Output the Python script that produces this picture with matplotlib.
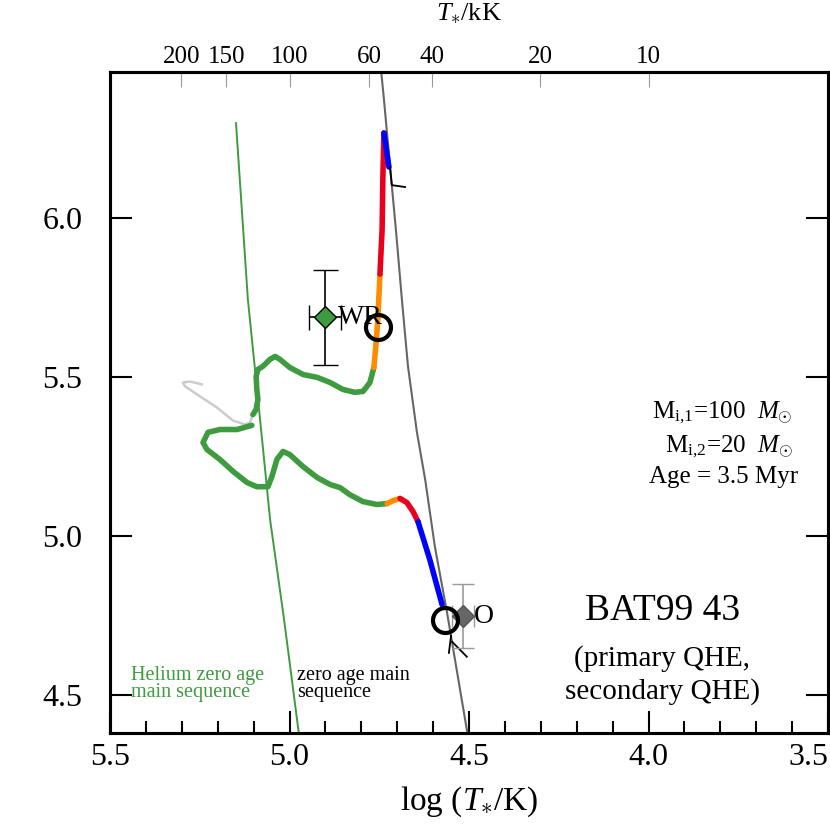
import numpy as np
import matplotlib.pyplot as plt
from matplotlib.ticker import MultipleLocator

plt.rcParams['font.family'] = ['Liberation Serif', 'DejaVu Serif']
plt.rcParams['mathtext.fontset'] = 'custom'
plt.rcParams['mathtext.rm'] = 'Liberation Serif'
plt.rcParams['mathtext.it'] = 'Liberation Serif:italic'

# ─── data (log T*/K, log L/Lsun) ───────────────────────────────────────────
zams_logT = [4.748, 4.737, 4.720, 4.703, 4.687, 4.670, 4.645, 4.622, 4.595, 4.561, 4.503]
zams_logL = [6.500, 6.375, 6.164, 5.956, 5.745, 5.534, 5.326, 5.177, 4.966, 4.758, 4.370]

hezams_logT = [5.149, 5.116, 5.082, 5.054, 5.015, 4.973]
hezams_logL = [6.299, 5.745, 5.367, 5.051, 4.736, 4.370]

# primary (100 Msun, QHE)
prim_blue_T = [4.723, 4.730, 4.737]
prim_blue_L = [6.161, 6.214, 6.268]
prim_red_T = [4.737, 4.740, 4.742, 4.748]
prim_red_L = [6.268, 6.123, 5.965, 5.824]
prim_orange_T = [4.748, 4.754, 4.759, 4.765]
prim_orange_L = [5.824, 5.682, 5.603, 5.530]
prim_green_T = [4.765, 4.776, 4.795, 4.818, 4.851, 4.887, 4.923, 4.962, 4.999,
                5.027, 5.040, 5.054, 5.074, 5.088, 5.093, 5.091, 5.088, 5.093, 5.102]
prim_green_L = [5.530, 5.483, 5.455, 5.452, 5.461, 5.483, 5.499, 5.508, 5.530,
                5.556, 5.565, 5.556, 5.534, 5.524, 5.502, 5.461, 5.430, 5.398, 5.382]
prim_gray_T = [5.102, 5.110, 5.124, 5.157, 5.202, 5.249, 5.291, 5.297, 5.277, 5.244]
prim_gray_L = [5.382, 5.357, 5.351, 5.363, 5.404, 5.439, 5.471, 5.483, 5.486, 5.477]

# secondary (20 Msun, QHE)
sec_green_T = [5.105, 5.146, 5.194, 5.227, 5.241, 5.230, 5.194, 5.157, 5.118, 5.091,
               5.060, 5.049, 5.035, 5.018, 4.999, 4.962, 4.923, 4.887, 4.859, 4.832,
               4.795, 4.756, 4.728]
sec_green_L = [5.348, 5.335, 5.335, 5.326, 5.294, 5.272, 5.241, 5.203, 5.168, 5.155,
               5.155, 5.187, 5.241, 5.266, 5.256, 5.218, 5.184, 5.162, 5.152, 5.130,
               5.108, 5.099, 5.102]
sec_orange_T = [4.728, 4.712, 4.692]
sec_orange_L = [5.102, 5.111, 5.118]
sec_red_T = [4.692, 4.673, 4.656, 4.642]
sec_red_L = [5.118, 5.105, 5.077, 5.045]
sec_blue_T = [4.642, 4.609, 4.575]
sec_blue_L = [5.045, 4.925, 4.784]

# ZAMS start marks (thin black)
mark1_T = [4.720, 4.715, 4.678]
mark1_L = [6.161, 6.104, 6.098]
mark2a_T = [4.550, 4.556]
mark2a_L = [4.686, 4.632]
mark2b_T = [4.547, 4.506]
mark2b_L = [4.667, 4.620]

# current model positions (open circles)
now_T = [4.754, 4.567]
now_L = [5.657, 4.736]

# observed stars
wr_T, wr_L, wr_dT, wr_dL = 4.901, 5.688, 0.045, 0.15
o_T, o_L, o_dT, o_dL = 4.517, 4.749, 0.03, 0.10

logT_ticks = [5.5, 5.0, 4.5, 4.0, 3.5]
tkk_ticks = [200, 150, 100, 60, 40, 20, 10]

BLUE, RED, ORANGE, GREEN = '#0000ff', '#e8001c', '#ff8c00', '#3f9b3f'

# ─── figure ───────────────────────────────────────────────────────────────
fig = plt.figure(figsize=(8.3, 8.25), dpi=100)
ax = fig.add_axes([110/830, 1-733/825, 718/830, 661/825])

ax.plot(zams_logT, zams_logL, color='#666666', lw=1.5, zorder=2)
ax.plot(hezams_logT, hezams_logL, color=GREEN, lw=1.4, zorder=2)

tw = 4.0
ax.plot(prim_gray_T, prim_gray_L, color='#cccccc', lw=1.8, zorder=3)
for T, L, c in [(prim_green_T, prim_green_L, GREEN),
                (prim_orange_T, prim_orange_L, ORANGE),
                (prim_red_T, prim_red_L, RED),
                (prim_blue_T, prim_blue_L, BLUE),
                (sec_green_T, sec_green_L, GREEN),
                (sec_orange_T, sec_orange_L, ORANGE),
                (sec_red_T, sec_red_L, RED),
                (sec_blue_T, sec_blue_L, BLUE)]:
    ax.plot(T, L, color=c, lw=tw, solid_capstyle='round', zorder=4)

for T, L in [(mark1_T, mark1_L), (mark2a_T, mark2a_L), (mark2b_T, mark2b_L)]:
    ax.plot(T, L, color='k', lw=1.3, zorder=4)

# observations
ax.errorbar(wr_T, wr_L, xerr=wr_dT, yerr=wr_dL, fmt='D', mfc='#3f9b3f', mec='k',
            ms=11, mew=1.0, ecolor='k', elinewidth=1.2, capsize=9, capthick=1.2, zorder=5)
ax.errorbar(o_T, o_L, xerr=o_dT, yerr=o_dL, fmt='D', mfc='#666666', mec='#555555',
            ms=11, mew=1.0, ecolor='#999999', elinewidth=1.2, capsize=8, capthick=1.2, zorder=5)
ax.text(4.865, wr_L, 'WR', fontsize=20, va='center', ha='left', zorder=5)
ax.text(4.486, 4.746, 'O', fontsize=20, va='center', ha='left', zorder=5)

ax.plot(now_T, now_L, 'o', mfc='none', mec='k', ms=18, mew=3, zorder=6)

# annotations
ax.text(0.951, 0.484, r'M$_{\rm i{,}1}$=100  $M_{\odot}$', transform=ax.transAxes,
        ha='right', va='center', fontsize=18)
ax.text(0.951, 0.433, r'M$_{\rm i{,}2}$=20  $M_{\odot}$', transform=ax.transAxes,
        ha='right', va='center', fontsize=18)
ax.text(0.958, 0.387, 'Age = 3.5 Myr', transform=ax.transAxes,
        ha='right', va='center', fontsize=18)
ax.text(0.769, 0.185, 'BAT99 43', transform=ax.transAxes,
        ha='center', va='center', fontsize=27)
ax.text(0.769, 0.113, '(primary QHE,', transform=ax.transAxes,
        ha='center', va='center', fontsize=21)
ax.text(0.769, 0.062, 'secondary QHE)', transform=ax.transAxes,
        ha='center', va='center', fontsize=21)

ax.text(0.029, 0.087, 'Helium zero age', transform=ax.transAxes, color=GREEN,
        ha='left', va='center', fontsize=14.5)
ax.text(0.029, 0.062, 'main sequence', transform=ax.transAxes, color=GREEN,
        ha='left', va='center', fontsize=14.5)
ax.text(0.260, 0.087, 'zero age main', transform=ax.transAxes,
        ha='left', va='center', fontsize=14.5)
ax.text(0.260, 0.062, 'sequence', transform=ax.transAxes,
        ha='left', va='center', fontsize=14.5)

# axes
ax.set_xlim(5.5, 3.5)
ax.set_ylim(4.38, 6.46)
ax.set_xticks(logT_ticks, ['%.1f' % v for v in logT_ticks])
ax.xaxis.set_minor_locator(MultipleLocator(0.1))
ax.set_yticks([4.5, 5.0, 5.5, 6.0], ['4.5', '5.0', '5.5', '6.0'])
ax.yaxis.set_minor_locator(MultipleLocator(0.1))
ax.tick_params(which='both', direction='in', top=False, right=True, width=1.5,
               labelsize=23)
ax.tick_params(axis='x', which='major', length=16, pad=7)
ax.tick_params(axis='x', which='minor', length=9)
ax.tick_params(axis='y', which='major', length=16, pad=20)
ax.tick_params(axis='y', which='minor', length=15)
for s in ax.spines.values():
    s.set_linewidth(2.2)
for lab in ax.get_xticklabels():
    if lab.get_text() == '3.5':
        lab.set_horizontalalignment('right')

ax2 = ax.twiny()
ax2.set_xlim(ax.get_xlim())
ax2.set_xticks(np.log10(np.array(tkk_ticks) * 1e3), [str(t) for t in tkk_ticks])
ax2.minorticks_off()
ax2.tick_params(direction='in', length=11, width=0.8, color='#999999', labelsize=18, pad=3)
for s in ax2.spines.values():
    s.set_linewidth(2.2)

fig.text(469/830, 1-810/825, r'log ($T_{\ast}$/K)', ha='center', va='baseline', fontsize=24)
fig.text(469/830, 1-20/825, r'$T_{\ast}$/kK', ha='center', va='baseline', fontsize=19)

plt.savefig('out.png', dpi=100)
